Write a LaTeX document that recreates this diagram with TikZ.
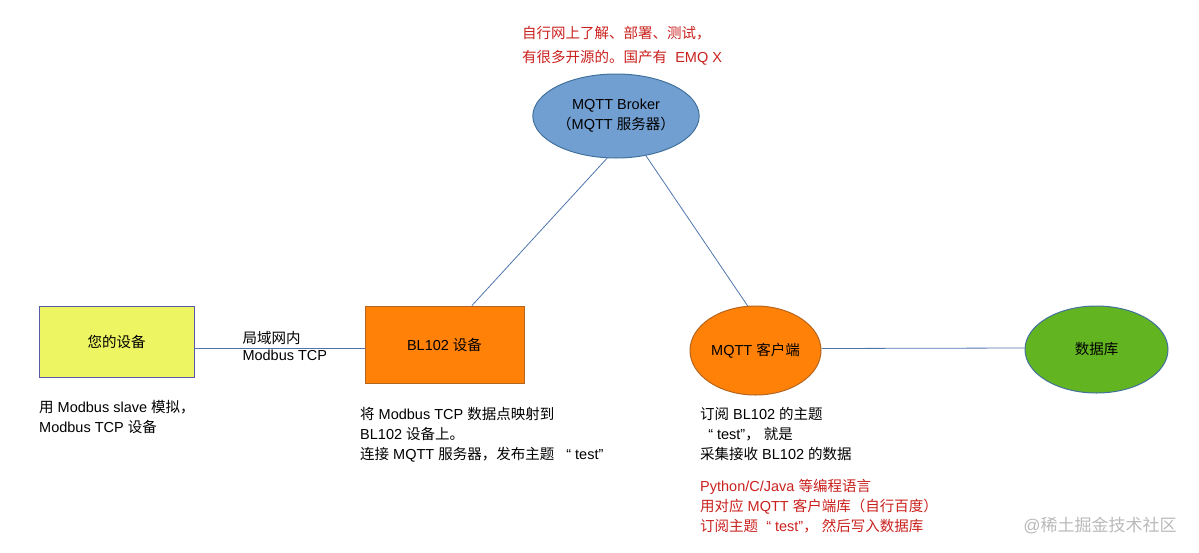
\documentclass[tikz,border=0pt]{standalone}
\usepackage{fontspec}
\setmainfont{Liberation Sans}
\newfontfamily\cjk{Noto Sans CJK SC}
\newcommand{\zh}[1]{{\cjk #1}}
\usetikzlibrary{shapes.geometric}

\definecolor{brokerblue}{HTML}{729FD1}
\definecolor{brokerline}{HTML}{41719C}
\definecolor{devyellow}{HTML}{EEF562}
\definecolor{orangefill}{HTML}{FF8108}
\definecolor{orangeline}{HTML}{B5651D}
\definecolor{dbgreen}{HTML}{62B521}
\definecolor{wireblue}{HTML}{4F75AD}
\definecolor{notered}{HTML}{C9211E}

\begin{document}
\begin{tikzpicture}[x=1pt,y=-1pt,
  every node/.style={font=\fontsize{14.5}{20}\selectfont},
  dev/.style={draw=#1, line width=1pt, inner sep=0pt},
  oval/.style={ellipse, draw=#1, line width=1pt, inner sep=0pt},
  wire/.style={draw=wireblue, line width=0.8pt},
  note/.style={anchor=north west, inner sep=0pt, align=left},
  rednote/.style={note, text=notered}]
  \useasboundingbox (0,0) rectangle (1199,552);

  % broker on top
  \node[oval=brokerline, fill=brokerblue, minimum width=162pt, minimum height=84pt,
        align=center] (broker) at (616,116) {MQTT Broker\\\zh{（}MQTT \zh{服务器）}};
  \node[rednote, font=\fontsize{14.5}{24}\selectfont] (brokernote) at (522,26)
    {\zh{自行网上了解、部署、测试，}\\\zh{有很多开源的。国产有}\ \ EMQ X};

  % devices in the row
  \node[dev=gray!70!blue, fill=devyellow, minimum width=155pt, minimum height=71pt]
    (device) at (116.5,341.5) {\zh{您的设备}};
  \node[dev=orangeline, fill=orangefill, minimum width=159pt, minimum height=77pt]
    (bl) at (444.5,344.5) {BL102 \zh{设备}};
  \node[oval=orangeline, fill=orangefill, minimum width=131pt, minimum height=89pt]
    (client) at (755.5,350.5) {MQTT \zh{客户端}};
  \node[oval=brokerline, fill=dbgreen, minimum width=143pt, minimum height=87pt]
    (db) at (1096.5,349.5) {\zh{数据库}};

  % links
  \draw[wire] ([yshift=-6.5pt]device.east) -- ([yshift=-3.5pt]bl.west)
    node[note, font=\fontsize{14.5}{17}\selectfont, pos=0.28, yshift=17pt]
    (lan) {\zh{局域网内}\\Modbus TCP};
  \draw[wire] ([xshift=27.5pt]bl.north) -- (broker.258);
  \draw[wire] (broker.-53) -- (client.100);
  \draw[wire] ([yshift=2pt]client.east) -- ([yshift=1.5pt]db.west);

  % notes under the row
  \node[note] (devicenote) at (39,400)
    {\zh{用} Modbus slave \zh{模拟，}\\Modbus TCP \zh{设备}};
  \node[note] (blnote) at (360,407)
    {\zh{将} Modbus TCP \zh{数据点映射到}\\BL102 \zh{设备上。}\\\zh{连接} MQTT \zh{服务器，发布主题}\hspace{12pt}“ test”};
  \node[note] (clientnote) at (700,407)
    {\zh{订阅} BL102 \zh{的主题}\\\ \ “ test”\zh{，}\ \zh{就是}\\\zh{采集接收} BL102 \zh{的数据}};
  \node[rednote] (codenote) at (700,479)
    {Python/C/Java \zh{等编程语言}\\\zh{用对应} MQTT \zh{客户端库（自行百度）}\\\zh{订阅主题}\ \ “ test”\zh{，}\ \zh{然后写入数据库}};

  % watermark
  \node[text=gray!55, font=\fontsize{17}{19}\selectfont] (mark) at (1100,525) {@\zh{稀土掘金技术社区}};
\end{tikzpicture}
\end{document}
